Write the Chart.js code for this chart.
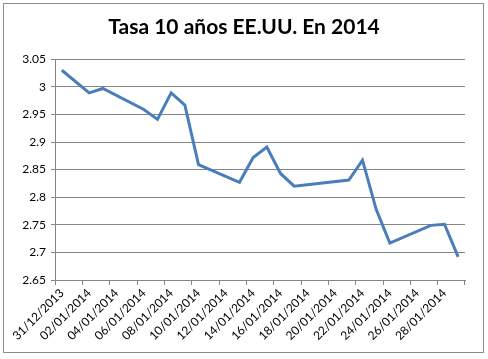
<!DOCTYPE html>
<html>
<head>
<meta charset="utf-8">
<script src="https://cdn.jsdelivr.net/npm/chart.js@4"></script>
<style>
  html, body { margin: 0; padding: 0; background: #fff; }
  #wrap { width: 488px; height: 359px; position: relative; }
</style>
</head>
<body>
<div id="wrap"><canvas id="chart"></canvas></div>
<script>
// fechas de cotización (días hábiles) y tasa del bono a 10 años
const fechas = [
  "31/12/2013", "02/01/2014", "03/01/2014", "06/01/2014", "07/01/2014",
  "08/01/2014", "09/01/2014", "10/01/2014", "13/01/2014", "14/01/2014",
  "15/01/2014", "16/01/2014", "17/01/2014", "21/01/2014", "22/01/2014",
  "23/01/2014", "24/01/2014", "27/01/2014", "28/01/2014", "29/01/2014"
];
const tasas = [
  3.030, 2.989, 2.997, 2.959, 2.941,
  2.989, 2.967, 2.859, 2.827, 2.872,
  2.891, 2.843, 2.820, 2.831, 2.867,
  2.778, 2.717, 2.749, 2.751, 2.692
];
const primerDia = "31/12/2013";
const numDias = 30;
const yMin = 2.65, yMax = 3.05, yPaso = 0.05;

// eje de fechas: un hueco por día calendario
function fmt(d) {
  const dd = String(d.getUTCDate()).padStart(2, "0");
  const mm = String(d.getUTCMonth() + 1).padStart(2, "0");
  return dd + "/" + mm + "/" + d.getUTCFullYear();
}
const [d0, m0, a0] = primerDia.split("/").map(Number);
const dias = [];
for (let i = 0; i < numDias; i++) {
  dias.push(fmt(new Date(Date.UTC(a0, m0 - 1, d0 + i))));
}

const gris = "#868686";

const bordeExterior = {
  id: "bordeExterior",
  afterDraw(chart) {
    const ctx = chart.ctx;
    ctx.save();
    ctx.strokeStyle = "#8c8c8c";
    ctx.lineWidth = 1;
    ctx.strokeRect(3.5, 3.5, 480, 349);
    ctx.restore();
  }
};

new Chart(document.getElementById("chart"), {
  type: "line",
  data: {
    labels: dias,
    datasets: [{
      label: "Tasa 10 años",
      data: fechas.map((f, i) => ({ x: f, y: tasas[i] })),
      borderColor: "#4A7EBB",
      borderWidth: 3,
      pointRadius: 0,
      tension: 0,
      fill: false
    }]
  },
  options: {
    responsive: true,
    maintainAspectRatio: false,
    animation: false,
    layout: { padding: 0 },
    plugins: {
      legend: { display: false },
      tooltip: { enabled: false },
      title: {
        display: true,
        text: "Tasa 10 años EE.UU. En 2014",
        color: "#000",
        font: { family: "Lato", size: 21, weight: "bold" },
        padding: { top: 15, bottom: 19 }
      }
    },
    scales: {
      x: {
        type: "category",
        offset: true,
        afterFit: (s) => { s.height = 79; },
        grid: {
          offset: true,
          drawOnChartArea: false,
          drawTicks: true,
          tickLength: 5,
          color: (c) => (c.type !== "tick" || c.index % 2 === 0) ? gris : "rgba(0,0,0,0)"
        },
        border: { display: true, color: gris },
        ticks: {
          autoSkip: false,
          maxRotation: 45,
          minRotation: 45,
          padding: 1,
          color: "#000",
          font: { family: "Lato", size: 12 },
          callback: (v, i) => (i % 2 === 0 ? dias[i] : "")
        }
      },
      y: {
        min: yMin,
        max: yMax,
        afterFit: (s) => { s.width = 55; },
        grid: { color: gris, tickLength: 4 },
        border: { display: true, color: gris },
        ticks: {
          stepSize: yPaso,
          padding: 5,
          color: "#000",
          font: { family: "Lato", size: 12 },
          callback: (v) => String(Math.round(v * 100) / 100)
        }
      },
      // eje vacío a la derecha, solo para dejar el margen
      margen: {
        type: "linear",
        position: "right",
        afterFit: (s) => { s.width = 23; },
        grid: { display: false },
        border: { display: false },
        ticks: { display: false }
      }
    }
  },
  plugins: [bordeExterior]
});
</script>
</body>
</html>
